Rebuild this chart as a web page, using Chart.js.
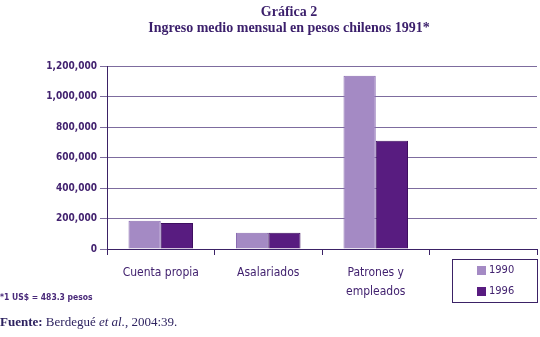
<!DOCTYPE html>
<html>
<head>
<meta charset="utf-8">
<script src="https://cdn.jsdelivr.net/npm/chart.js@4"></script>
<style>
  html, body { margin: 0; padding: 0; background: #fff; }
  #wrap { position: relative; width: 540px; height: 337px; overflow: hidden; }
  #chart { position: absolute; left: 0; top: 0; }
  .title { position: absolute; left: 0; width: 578px; text-align: center; font-family: "Liberation Serif", serif; font-weight: bold; font-size: 14px; color: #3b1f6b; }
  #note { position: absolute; left: 0; top: 292px; font-family: "DejaVu Sans Condensed", sans-serif; font-weight: bold; font-size: 8.5px; color: #4a2a7a; }
  #source { position: absolute; left: 0; top: 314px; font-family: "Liberation Serif", serif; font-size: 13px; color: #2e2360; }
</style>
</head>
<body>
<div id="wrap">
  <canvas id="chart" width="540" height="337"></canvas>
  <div class="title" style="top:4px">Gráfica 2</div>
  <div class="title" style="top:20px">Ingreso medio mensual en pesos chilenos 1991*</div>
  <div id="note">*1 US$ = 483.3 pesos</div>
  <div id="source"><b>Fuente:</b> Berdegué <i>et al.</i>, 2004:39.</div>
</div>
<script>
const categories = ['Cuenta propia', 'Asalariados', ['Patrones y', 'empleados'], '']
const years = ['1990', '1996']
const ingreso1990 = [185000, 107000, 1136000, null]
const ingreso1996 = [170000, 107000, 710000, null]
const yTicks = [0, 200000, 400000, 600000, 800000, 1000000, 1200000]

const textColor = '#42226f'
const gridColor = '#7d6c9e'

// legend box drawn in the lower right, over the empty 4th category
const boxLegend = {
  id: 'boxLegend',
  afterDraw(chart) {
    const ctx = chart.ctx
    const x = 452, y = 259, w = 85, h = 43
    ctx.save()
    ctx.strokeStyle = '#3b2266'
    ctx.lineWidth = 1
    ctx.strokeRect(x + 0.5, y + 0.5, w, h)
    ctx.font = '11px "DejaVu Sans Condensed"'
    ctx.textBaseline = 'middle'
    chart.data.datasets.forEach((ds, i) => {
      const cy = y + 11 + i * 21
      ctx.fillStyle = ds.backgroundColor
      ctx.fillRect(477, cy - 4, 9, 9)
      ctx.fillStyle = textColor
      ctx.fillText(ds.label, 489, cy)
    })
    ctx.restore()
  }
}

new Chart(document.getElementById('chart'), {
  type: 'bar',
  data: {
    labels: categories,
    datasets: [
      { label: years[0], data: ingreso1990, backgroundColor: '#a48ac4', borderColor: '#8a6cb2', borderWidth: 1 },
      { label: years[1], data: ingreso1996, backgroundColor: '#581c80', borderColor: '#3e0f60', borderWidth: 1 }
    ]
  },
  options: {
    responsive: false,
    animation: false,
    layout: { padding: { top: 66, right: 3, left: 0, bottom: 0 } },
    plugins: { legend: { display: false }, title: { display: false }, tooltip: { enabled: false } },
    datasets: { bar: { categoryPercentage: 0.6, barPercentage: 1.0 } },
    scales: {
      x: {
        afterFit(s) { s.height = 88 },
        grid: { display: true, drawOnChartArea: false, drawTicks: true, tickLength: 6, color: '#3b2266', offset: true },
        border: { display: true, color: '#3b2266', width: 1 },
        ticks: { color: textColor, font: { family: 'DejaVu Sans Condensed', size: 12, lineHeight: 1.6 }, padding: 8, maxRotation: 0 }
      },
      y: {
        min: 0,
        max: 1200000,
        afterFit(s) { s.width = 107 },
        afterBuildTicks(s) { s.ticks = yTicks.map(v => ({ value: v })) },
        grid: { color: gridColor, lineWidth: 1, tickLength: 7, drawTicks: true },
        border: { display: true, color: '#3b2266', width: 1 },
        ticks: {
          color: textColor,
          font: { family: 'DejaVu Sans Condensed', size: 10, weight: 'bold' },
          padding: 3,
          callback: v => v.toLocaleString('en-US')
        }
      }
    }
  },
  plugins: [boxLegend]
})
</script>
</body>
</html>
